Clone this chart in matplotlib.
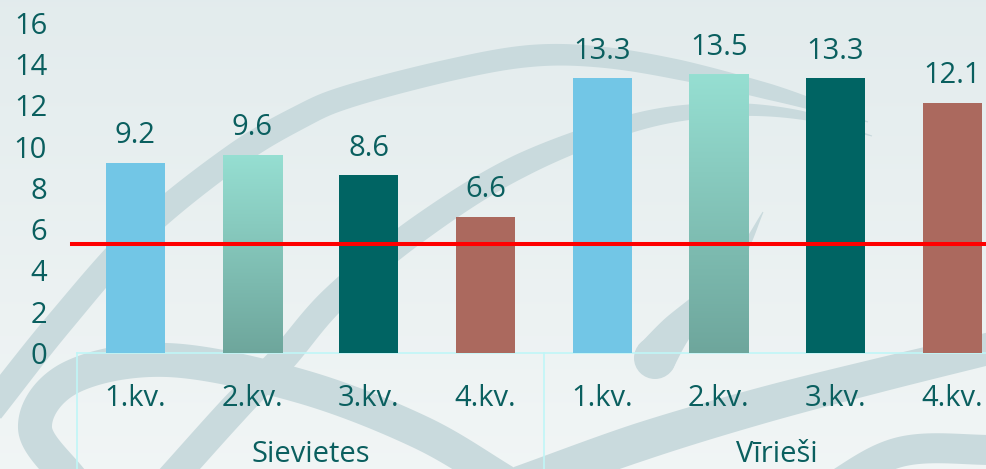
import numpy as np
import matplotlib
matplotlib.use("Agg")
import matplotlib.pyplot as plt
from matplotlib.patches import Polygon, Circle
from matplotlib.lines import Line2D
from matplotlib.colors import to_rgb
from matplotlib.transforms import blended_transform_factory

# ---------------- data ----------------
groups = ["Sievietes", "Vīrieši"]
quarters = ["1.kv.", "2.kv.", "3.kv.", "4.kv."]
values = [9.2, 9.6, 8.6, 6.6, 13.3, 13.5, 13.3, 12.1]
reference_level = 5.26
y_ticks = [0, 2, 4, 6, 8, 10, 12, 14, 16]

# ---------------- style ----------------
TEXT = "#0a5f5f"
BAR_COLORS = ["#72c6e6", "#8fd5c9", "#006463", "#ab695e"]
GRAD_TOP, GRAD_BOT = "#96dfd2", "#6ea69c"
CYAN = "#c0f6f7"
BAND = "#c9dadd"
plt.rcParams["font.family"] = ["Open Sans", "DejaVu Sans"]
FS = 21

W, H = 987, 469
fig = plt.figure(figsize=(W / 100, H / 100), dpi=100)

# ---------------- decorative background ----------------
bg = fig.add_axes([0, 0, 1, 1])
bg.set_xlim(0, W)
bg.set_ylim(H, 0)
bg.axis("off")
g = np.linspace(0, 1, 256)[:, None, None]
top = np.array([0.890, 0.925, 0.930])
bot = np.array([0.945, 0.962, 0.962])
bg.imshow(top + (bot - top) * g, extent=[0, W, H, 0], aspect="auto", zorder=0)


def catmull(pts, n=30):
    pts = np.asarray(pts, float)
    P = np.vstack([2 * pts[0] - pts[1], pts, 2 * pts[-1] - pts[-2]])
    out = []
    t = np.linspace(0, 1, n, endpoint=False)[:, None]
    for i in range(1, len(P) - 2):
        p0, p1, p2, p3 = P[i - 1], P[i], P[i + 1], P[i + 2]
        out.append(0.5 * ((2 * p1) + (-p0 + p2) * t + (2 * p0 - 5 * p1 + 4 * p2 - p3) * t ** 2
                          + (-p0 + 3 * p1 - 3 * p2 + p3) * t ** 3))
    out.append(P[-2][None])
    return np.vstack(out)


def band(pts, widths):
    c = catmull(pts)
    s = np.linspace(0, len(pts) - 1, len(c))
    w = np.interp(s, np.arange(len(pts)), widths)
    d = np.gradient(c, axis=0)
    d /= np.linalg.norm(d, axis=1)[:, None]
    nrm = np.column_stack([-d[:, 1], d[:, 0]])
    left = c + nrm * w[:, None] / 2
    right = c - nrm * w[:, None] / 2
    bg.add_patch(Polygon(np.vstack([left, right[::-1]]), closed=True,
                         fc=BAND, ec="none", zorder=1))


band([(-10, 410), (60, 322), (140, 232), (233, 157), (300, 117), (350, 96), (450, 70),
      (530, 56), (600, 57), (680, 70), (770, 92), (830, 110), (868, 122)],
     [28, 27, 26, 25, 24, 23, 22, 22, 21, 20, 16, 9, 1])
band([(170, 480), (233, 410), (283, 358), (335, 298), (420, 228), (520, 166), (633, 123),
      (720, 110), (800, 115), (872, 136)],
     [30, 30, 28, 27, 26, 24, 18, 14, 9, 1])
band([(75, 485), (35, 428), (70, 378), (167, 360), (300, 386), (420, 432), (510, 485)],
     [34, 34, 34, 34, 34, 34, 34])
band([(520, 485), (640, 442), (760, 406), (880, 375), (1000, 346)], [38, 38, 36, 34, 32])
band([(820, 495), (900, 452), (1000, 450)], [30, 30, 30])
band([(763, 212), (742, 252), (708, 296), (676, 330), (655, 358)], [1, 9, 20, 32, 42])
bg.add_patch(Circle((655, 358), 21, fc=BAND, ec="none", zorder=1))

# ---------------- chart ----------------
left_px, zero_px, top_px, cat_px = 77, 353, 22.6, 116.7
ax = fig.add_axes([left_px / W, 1 - zero_px / H, (W - left_px) / W, (zero_px - top_px) / H])
ax.set_facecolor("none")
x = np.arange(len(values))
colors = [BAR_COLORS[i % 4] for i in range(len(values))]
bars = ax.bar(x, values, width=0.506, color=colors, zorder=3, linewidth=0)

# gradient fill on the 2nd-quarter bars
gr = np.linspace(0, 1, 200)[:, None, None]
t_c, b_c = np.array(to_rgb(GRAD_TOP)), np.array(to_rgb(GRAD_BOT))
gimg = np.repeat(t_c * (1 - gr) + b_c * gr, 2, axis=1)
for i in range(len(values)):
    if i % 4 == 1:
        b = bars[i]
        im = ax.imshow(gimg, extent=[b.get_x(), b.get_x() + b.get_width(), 0, b.get_height()],
                       aspect="auto", origin="upper", zorder=3.1)
        im.set_clip_path(b)

ax.set_xlim(-0.5, -0.5 + (W - left_px) / cat_px)
ax.set_ylim(0, 16)
for s in ax.spines.values():
    s.set_visible(False)
ax.set_yticks(y_ticks)
ax.set_yticklabels([str(v) for v in y_ticks], fontsize=FS, color=TEXT)
ax.tick_params(axis="y", length=0, pad=21.5)
ax.set_xticks([])

# data labels
for xi, v in zip(x, values):
    ax.annotate(f"{v}", (xi, v), xytext=(0, 14.2), textcoords="offset points",
                ha="center", va="baseline", fontsize=FS, color=TEXT, zorder=5)

# target line
ax.axhline(reference_level, xmin=-5 / (W - left_px), xmax=1, color="#ff0000", lw=2.9,
           clip_on=False, zorder=4)

# category axis frame
ax.axhline(0, color=CYAN, lw=1.2, zorder=2.5, clip_on=False)
tr = blended_transform_factory(ax.transData, fig.transFigure)
nq = len(quarters)
for gi in range(len(groups)):
    xb = gi * nq - 0.5
    fig.add_artist(Line2D([xb, xb], [0, 1 - zero_px / H], transform=tr, color=CYAN, lw=1.2, zorder=2))
for xi in x:
    ax.text(xi, 1 - 406 / H, quarters[xi % nq], transform=tr, ha="center", va="baseline",
            fontsize=FS, color=TEXT)
for gi, gname in enumerate(groups):
    ax.text(gi * nq + (nq - 1) / 2, 1 - 462 / H, gname, transform=tr, ha="center",
            va="baseline", fontsize=FS, color=TEXT)

fig.savefig("out.png", dpi=100)
